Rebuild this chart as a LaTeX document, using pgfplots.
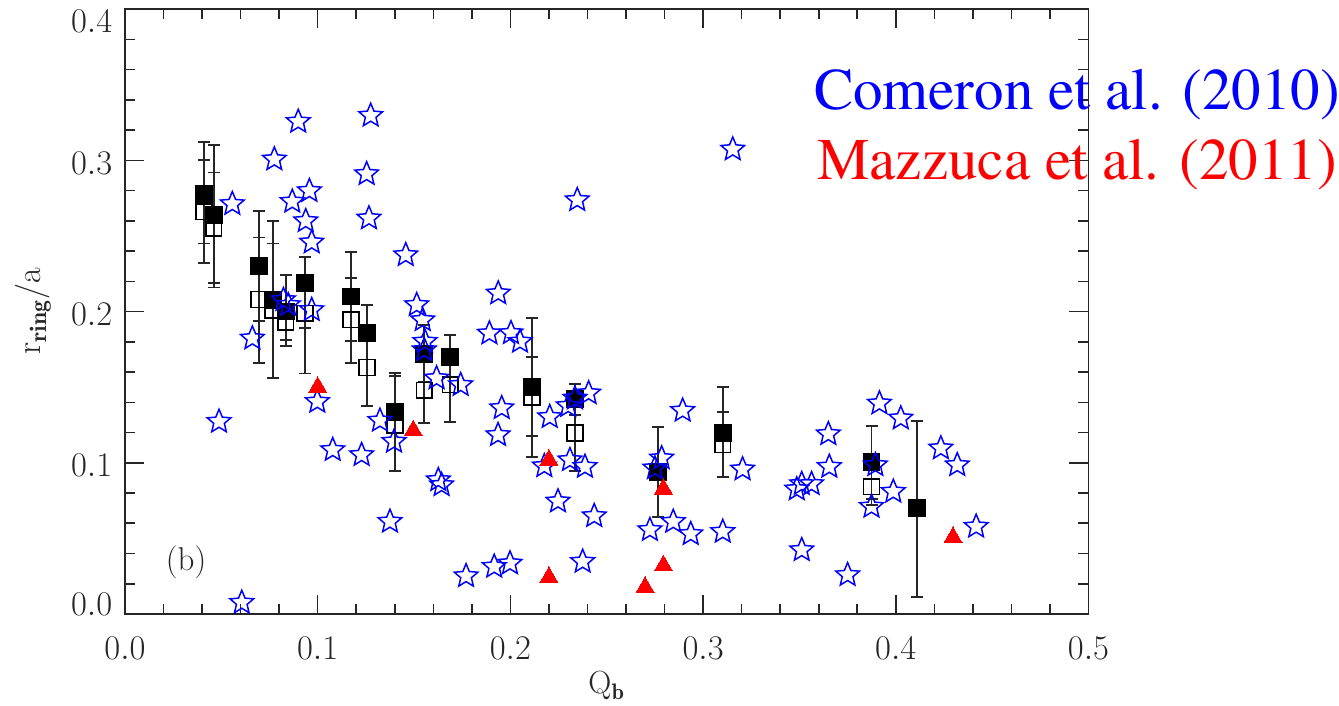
\documentclass[border=0pt]{standalone}
\usepackage{pgfplots}
\pgfplotsset{compat=1.18}
\usepackage{pgfplotstable}
\usepackage{fontspec}
\newfontfamily\legfont{texgyretermes}[Extension=.otf, UprightFont=*-regular]

% open five-pointed star
\newdimen\starinner
\pgfdeclareplotmark{pentstar}{%
  \starinner=0.45\pgfplotmarksize
  \pgfpathmoveto{\pgfpointpolar{90}{\pgfplotmarksize}}%
  \pgfpathlineto{\pgfpointpolar{126}{\starinner}}%
  \pgfpathlineto{\pgfpointpolar{162}{\pgfplotmarksize}}%
  \pgfpathlineto{\pgfpointpolar{198}{\starinner}}%
  \pgfpathlineto{\pgfpointpolar{234}{\pgfplotmarksize}}%
  \pgfpathlineto{\pgfpointpolar{270}{\starinner}}%
  \pgfpathlineto{\pgfpointpolar{306}{\pgfplotmarksize}}%
  \pgfpathlineto{\pgfpointpolar{342}{\starinner}}%
  \pgfpathlineto{\pgfpointpolar{18}{\pgfplotmarksize}}%
  \pgfpathlineto{\pgfpointpolar{54}{\starinner}}%
  \pgfpathclose
  \pgfusepathqstroke
}

% Comeron et al. (2010)
\pgfplotstableread{
x y
0.0557 0.2712
0.0775 0.3007
0.0899 0.3256
0.0868 0.2727
0.0957 0.2798
0.0938 0.2599
0.0969 0.2458
0.1275 0.3296
0.1254 0.2910
0.1266 0.2617
0.1457 0.2374
0.1514 0.2044
0.1545 0.1944
0.0822 0.2077
0.0847 0.2044
0.0969 0.2011
0.0661 0.1823
0.0488 0.1272
0.0998 0.1404
0.1078 0.1085
0.1228 0.1052
0.1323 0.1279
0.1396 0.1140
0.1375 0.0611
0.1626 0.0886
0.1643 0.0853
0.0606 0.0075
0.1617 0.1559
0.1742 0.1515
0.1553 0.1746
0.1557 0.1801
0.1937 0.2121
0.1891 0.1856
0.2003 0.1858
0.2050 0.1801
0.1955 0.1362
0.1936 0.1184
0.2204 0.1303
0.2176 0.0978
0.2247 0.0745
0.2300 0.1376
0.2406 0.1460
0.2335 0.1426
0.2309 0.1018
0.2387 0.0974
0.2435 0.0648
0.2750 0.0964
0.2785 0.1030
0.2375 0.0346
0.1770 0.0251
0.1916 0.0313
0.1998 0.0335
0.2894 0.1345
0.2724 0.0556
0.2845 0.0610
0.2936 0.0529
0.3102 0.0544
0.3205 0.0957
0.3486 0.0825
0.3512 0.0860
0.3563 0.0860
0.3512 0.0423
0.3650 0.1190
0.3655 0.0974
0.3750 0.0258
0.3154 0.3073
0.2347 0.2738
0.2456 0.4010
0.3915 0.1393
0.4026 0.1294
0.3894 0.0985
0.3987 0.0809
0.3874 0.0710
0.4234 0.1096
0.4319 0.0985
0.4417 0.0578
}\comeron

% Mazzuca et al. (2011)
\pgfplotstableread{
x y
0.1000 0.1500
0.1496 0.1213
0.2200 0.1019
0.2200 0.0243
0.2699 0.0177
0.2794 0.0320
0.2794 0.0827
0.4297 0.0507
}\mazzuca

% binned ring radii: filled and open estimates
\pgfplotstableread{
x yf yo
0.0410 0.2780 0.2660
0.0460 0.2640 0.2550
0.0695 0.2300 0.2080
0.0768 0.2077 0.2010
0.0834 0.2000 0.1930
0.0934 0.2190 0.1990
0.1173 0.2100 0.1945
0.1256 0.1860 0.1630
0.1401 0.1336 0.1250
0.1553 0.1720 0.1480
0.1687 0.1700 0.1515
0.2112 0.1500 0.1435
0.2335 0.1422 0.1197
0.2766 0.0940 0.0940
0.3103 0.1197 0.1120
0.3874 0.1003 0.0842
0.4108 0.0703 0.0703
}\bins

\begin{document}
\begin{tikzpicture}
\path[use as bounding box] (-62.5pt,-46pt) rectangle (607pt,307pt);
\begin{axis}[
  at={(0pt,0pt)}, anchor=south west,
  width=481.75pt, height=302.4pt, scale only axis,
  xmin=0, xmax=0.5, ymin=0, ymax=0.4,
  xtick={0,0.1,0.2,0.3,0.4,0.5},
  ytick={0,0.1,0.2,0.3,0.4},
  xticklabels={$0.0$,$0.1$,$0.2$,$0.3$,$0.4$,$0.5$},
  yticklabels={\raisebox{6.5pt}[\height][\depth]{$0.0$},$0.1$,$0.2$,$0.3$,\raisebox{-4.5pt}[\height][\depth]{$0.4$}},
  minor x tick num=4, minor y tick num=4,
  tick align=inside, tick pos=both,
  major tick length=9.5pt, minor tick length=5pt,
  every tick/.style={black!85, line width=0.8pt},
  axis line style={black!85, line width=0.9pt},
  xticklabel style={anchor=north, inner sep=0pt, yshift=-11.5pt, text=black!85,
    font=\fontsize{16.5}{18}\selectfont},
  yticklabel style={anchor=east, inner sep=0pt, xshift=-6.2pt, yshift=-1.5pt, text=black!85,
    font=\fontsize{16.5}{18}\selectfont},
  xlabel={$\mathrm{Q}_{\mathbf{b}}$},
  xlabel style={at={(axis description cs:0.5,0)}, anchor=base, yshift=-40pt,
    text=black!85, font=\fontsize{16}{18}\selectfont},
  ylabel={$\mathrm{r}_{\mathbf{ring}}/\mathrm{a}$},
  ylabel style={at={(axis description cs:-0.0872,0.5)}, anchor=base,
    text=black!85, font=\fontsize{17}{19}\selectfont},
  clip marker paths=true,
  unbounded coords=jump,
]
% error bars of the binned values
\addplot[black!85, line width=0.9pt, mark=-, mark size=3pt,
  mark options={line width=0.9pt}] coordinates {
 (0.0410,0.232) (0.0410,0.312) (0.0410,nan)
 (0.0460,0.216) (0.0460,0.310) (0.0460,nan)
 (0.0695,0.166) (0.0695,0.2665) (0.0695,nan)
 (0.0768,0.156) (0.0768,0.260) (0.0768,nan)
 (0.0834,0.177) (0.0834,0.224) (0.0834,nan)
 (0.0934,0.159) (0.0934,0.236) (0.0934,nan)
 (0.1173,0.166) (0.1173,0.2395) (0.1173,nan)
 (0.1256,0.1376) (0.1256,0.2045) (0.1256,nan)
 (0.1401,0.0946) (0.1401,0.1594) (0.1401,nan)
 (0.1553,0.1263) (0.1553,0.191) (0.1553,nan)
 (0.1687,0.127) (0.1687,0.1845) (0.1687,nan)
 (0.2112,0.104) (0.2112,0.196) (0.2112,nan)
 (0.2335,0.0946) (0.2335,0.152) (0.2335,nan)
 (0.2766,0.064) (0.2766,0.1237) (0.2766,nan)
 (0.3103,0.0906) (0.3103,0.150) (0.3103,nan)
 (0.3874,0.072) (0.3874,0.1243) (0.3874,nan)
 (0.4108,0.0115) (0.4108,0.1276)
};
% inner caps
\addplot[only marks, mark=-, mark size=3pt, mark options={black!85, line width=0.9pt}]
 coordinates {
 (0.0410,0.245) (0.0410,0.300) (0.0460,0.219) (0.0460,0.292)
 (0.0695,0.194) (0.0695,0.249) (0.0768,0.245) (0.0834,0.181)
 (0.0934,0.189) (0.1173,0.1805) (0.1173,0.222) (0.1401,0.1574)
 (0.1553,0.1535) (0.2112,0.1177) (0.2112,0.170) (0.2335,0.1316)
 (0.3103,0.1336) (0.3874,0.076)
};
% open squares
\addplot[only marks, mark=square, mark size=3.9pt,
  mark options={black, line width=0.75pt}] table[x=x, y=yo] {\bins};
% filled squares
\addplot[only marks, mark=square*, mark size=4.2pt,
  mark options={black, fill=black, line width=0.5pt}] table[x=x, y=yf] {\bins};
% Comeron et al. (2010)
\addplot[only marks, mark=pentstar, mark size=6.2pt,
  mark options={blue, line width=0.75pt}] table[x=x, y=y] {\comeron};
% Mazzuca et al. (2011)
\addplot[only marks, mark=triangle*, mark size=5.2pt,
  mark options={red, fill=red, line width=0pt}] table[x=x, y=y] {\mazzuca};
\node[text=black!85, font=\fontsize{16.5}{18}\selectfont] at (axis cs:0.0317,0.0344) {(b)};
\end{axis}
\node[anchor=base, text=blue, font=\legfont\fontsize{29.5}{35}\selectfont]
  at (476pt,252.4pt) {Comeron et al. (2010)};
\node[anchor=base, text=red, font=\legfont\fontsize{29.5}{35}\selectfont]
  at (476pt,217pt) {Mazzuca et al. (2011)};
\end{tikzpicture}
\end{document}
